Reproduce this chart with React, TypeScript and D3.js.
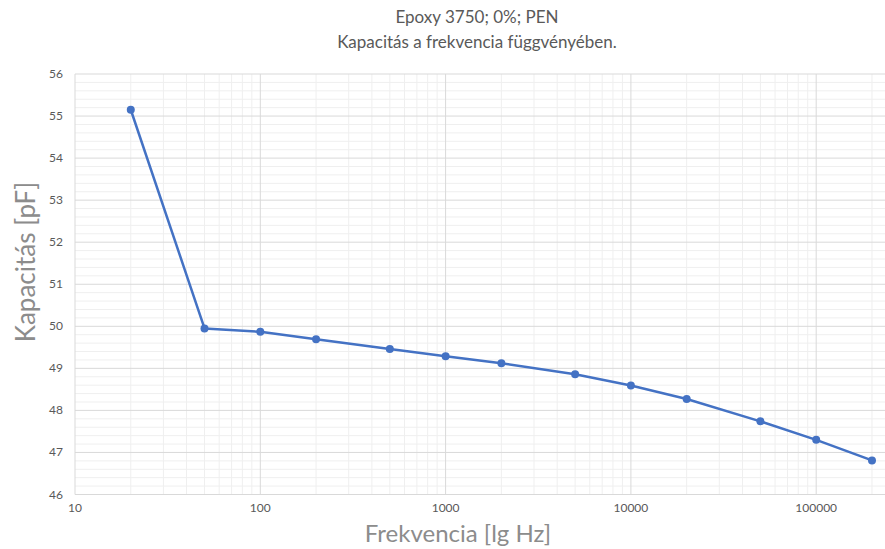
import React, { useRef, useEffect } from "react";
import * as d3 from "d3";

// Data
const frequencies = [20, 50, 100, 200, 500, 1000, 2000, 5000, 10000, 20000, 50000, 100000, 200000];
const capacitance = [55.15, 49.95, 49.87, 49.69, 49.46, 49.29, 49.12, 48.86, 48.59, 48.27, 47.74, 47.3, 46.81];
const yTicks = [46, 47, 48, 49, 50, 51, 52, 53, 54, 55, 56];
const xTicks = [10, 100, 1000, 10000, 100000, 1000000];

const TITLE_LINES = ["Epoxy 3750; 0%; PEN", "Kapacitás a frekvencia függvényében."];
const X_TITLE = "Frekvencia [lg Hz]";
const Y_TITLE = "Kapacitás [pF]";

const WIDTH = 885;
const HEIGHT = 549;
const FONT = "Lato, 'Open Sans', sans-serif";
const TEXT_COLOR = "#595959";
const LINE_COLOR = "#4472C4";

export default function App() {
  const svgRef = useRef<SVGSVGElement | null>(null);

  useEffect(() => {
    drawChart();
  }, []);

  function drawChart() {
    const svg = d3.select(svgRef.current);
    svg.selectAll("*").remove();

    const left = 75;
    const top = 74;
    const bottom = 494.5;
    const decade = 185.3;

    // plot area runs past the right edge of the picture (cropped at 885)
    const x = d3.scaleLog().domain([10, 1e6]).range([left, left + 5 * decade]);
    const y = d3.scaleLinear().domain([46, 56]).range([bottom, top]);

    const grid = svg.append("g");

    // minor gridlines
    const minorX: number[] = [];
    for (let e = 1; e < 6; e++) {
      for (let m = 2; m < 10; m++) minorX.push(m * 10 ** e);
    }
    grid.selectAll(".mx")
      .data(minorX)
      .join("line")
      .attr("x1", (d) => x(d)).attr("x2", (d) => x(d))
      .attr("y1", top).attr("y2", bottom)
      .attr("stroke", "#efefef").attr("stroke-width", 1);

    const minorY = d3.range(46, 56.001, 0.2).filter((v) => Math.abs(v - Math.round(v)) > 0.01);
    grid.selectAll(".my")
      .data(minorY)
      .join("line")
      .attr("x1", left).attr("x2", WIDTH)
      .attr("y1", (d) => y(d)).attr("y2", (d) => y(d))
      .attr("stroke", "#efefef").attr("stroke-width", 1);

    // major gridlines
    grid.selectAll(".Mx")
      .data(xTicks)
      .join("line")
      .attr("x1", (d) => x(d)).attr("x2", (d) => x(d))
      .attr("y1", top).attr("y2", bottom)
      .attr("stroke", "#d9d9d9").attr("stroke-width", 1);

    grid.selectAll(".My")
      .data(yTicks)
      .join("line")
      .attr("x1", left).attr("x2", WIDTH)
      .attr("y1", (d) => y(d)).attr("y2", (d) => y(d))
      .attr("stroke", "#d9d9d9").attr("stroke-width", 1);

    // tick labels
    svg.append("g").selectAll("text")
      .data(yTicks)
      .join("text")
      .attr("x", left - 12)
      .attr("y", (d) => y(d) + 4)
      .attr("text-anchor", "end")
      .style("font-family", FONT)
      .style("font-size", "12px")
      .style("fill", TEXT_COLOR)
      .text((d) => d);

    // only labels that fall inside the picture
    svg.append("g").selectAll("text")
      .data(xTicks.filter((d) => x(d) < WIDTH - 20))
      .join("text")
      .attr("x", (d) => x(d))
      .attr("y", bottom + 17)
      .attr("text-anchor", "middle")
      .style("font-family", FONT)
      .style("font-size", "12px")
      .style("fill", TEXT_COLOR)
      .text((d) => d);

    // series
    const points = frequencies.map((f, i) => [f, capacitance[i]] as [number, number]);
    const line = d3.line<[number, number]>()
      .x((d) => x(d[0]))
      .y((d) => y(d[1]));

    svg.append("path")
      .datum(points)
      .attr("d", line)
      .attr("fill", "none")
      .attr("stroke", LINE_COLOR)
      .attr("stroke-width", 2.5)
      .attr("stroke-linejoin", "round");

    svg.append("g").selectAll("circle")
      .data(points)
      .join("circle")
      .attr("cx", (d) => x(d[0]))
      .attr("cy", (d) => y(d[1]))
      .attr("r", 4)
      .attr("fill", LINE_COLOR);

    // titles
    TITLE_LINES.forEach((t, i) => {
      svg.append("text")
        .attr("x", 477)
        .attr("y", 23 + i * 25)
        .attr("text-anchor", "middle")
        .style("font-family", FONT)
        .style("font-size", "17px")
        .style("fill", TEXT_COLOR)
        .text(t);
    });

    svg.append("text")
      .attr("x", 458)
      .attr("y", 542)
      .attr("text-anchor", "middle")
      .style("font-family", FONT)
      .style("font-size", "24px")
      .style("fill", "#8c8c8c")
      .text(X_TITLE);

    svg.append("text")
      .attr("transform", `translate(35,262) rotate(-90)`)
      .attr("text-anchor", "middle")
      .style("font-family", FONT)
      .style("font-size", "26px")
      .style("fill", "#8c8c8c")
      .text(Y_TITLE);
  }

  return (
    <div style={{ position: "fixed", left: 0, top: 0, width: WIDTH, height: HEIGHT, overflow: "hidden", background: "#fff" }}>
      <svg ref={svgRef} width={WIDTH} height={HEIGHT} style={{ display: "block" }}></svg>
    </div>
  );
}
